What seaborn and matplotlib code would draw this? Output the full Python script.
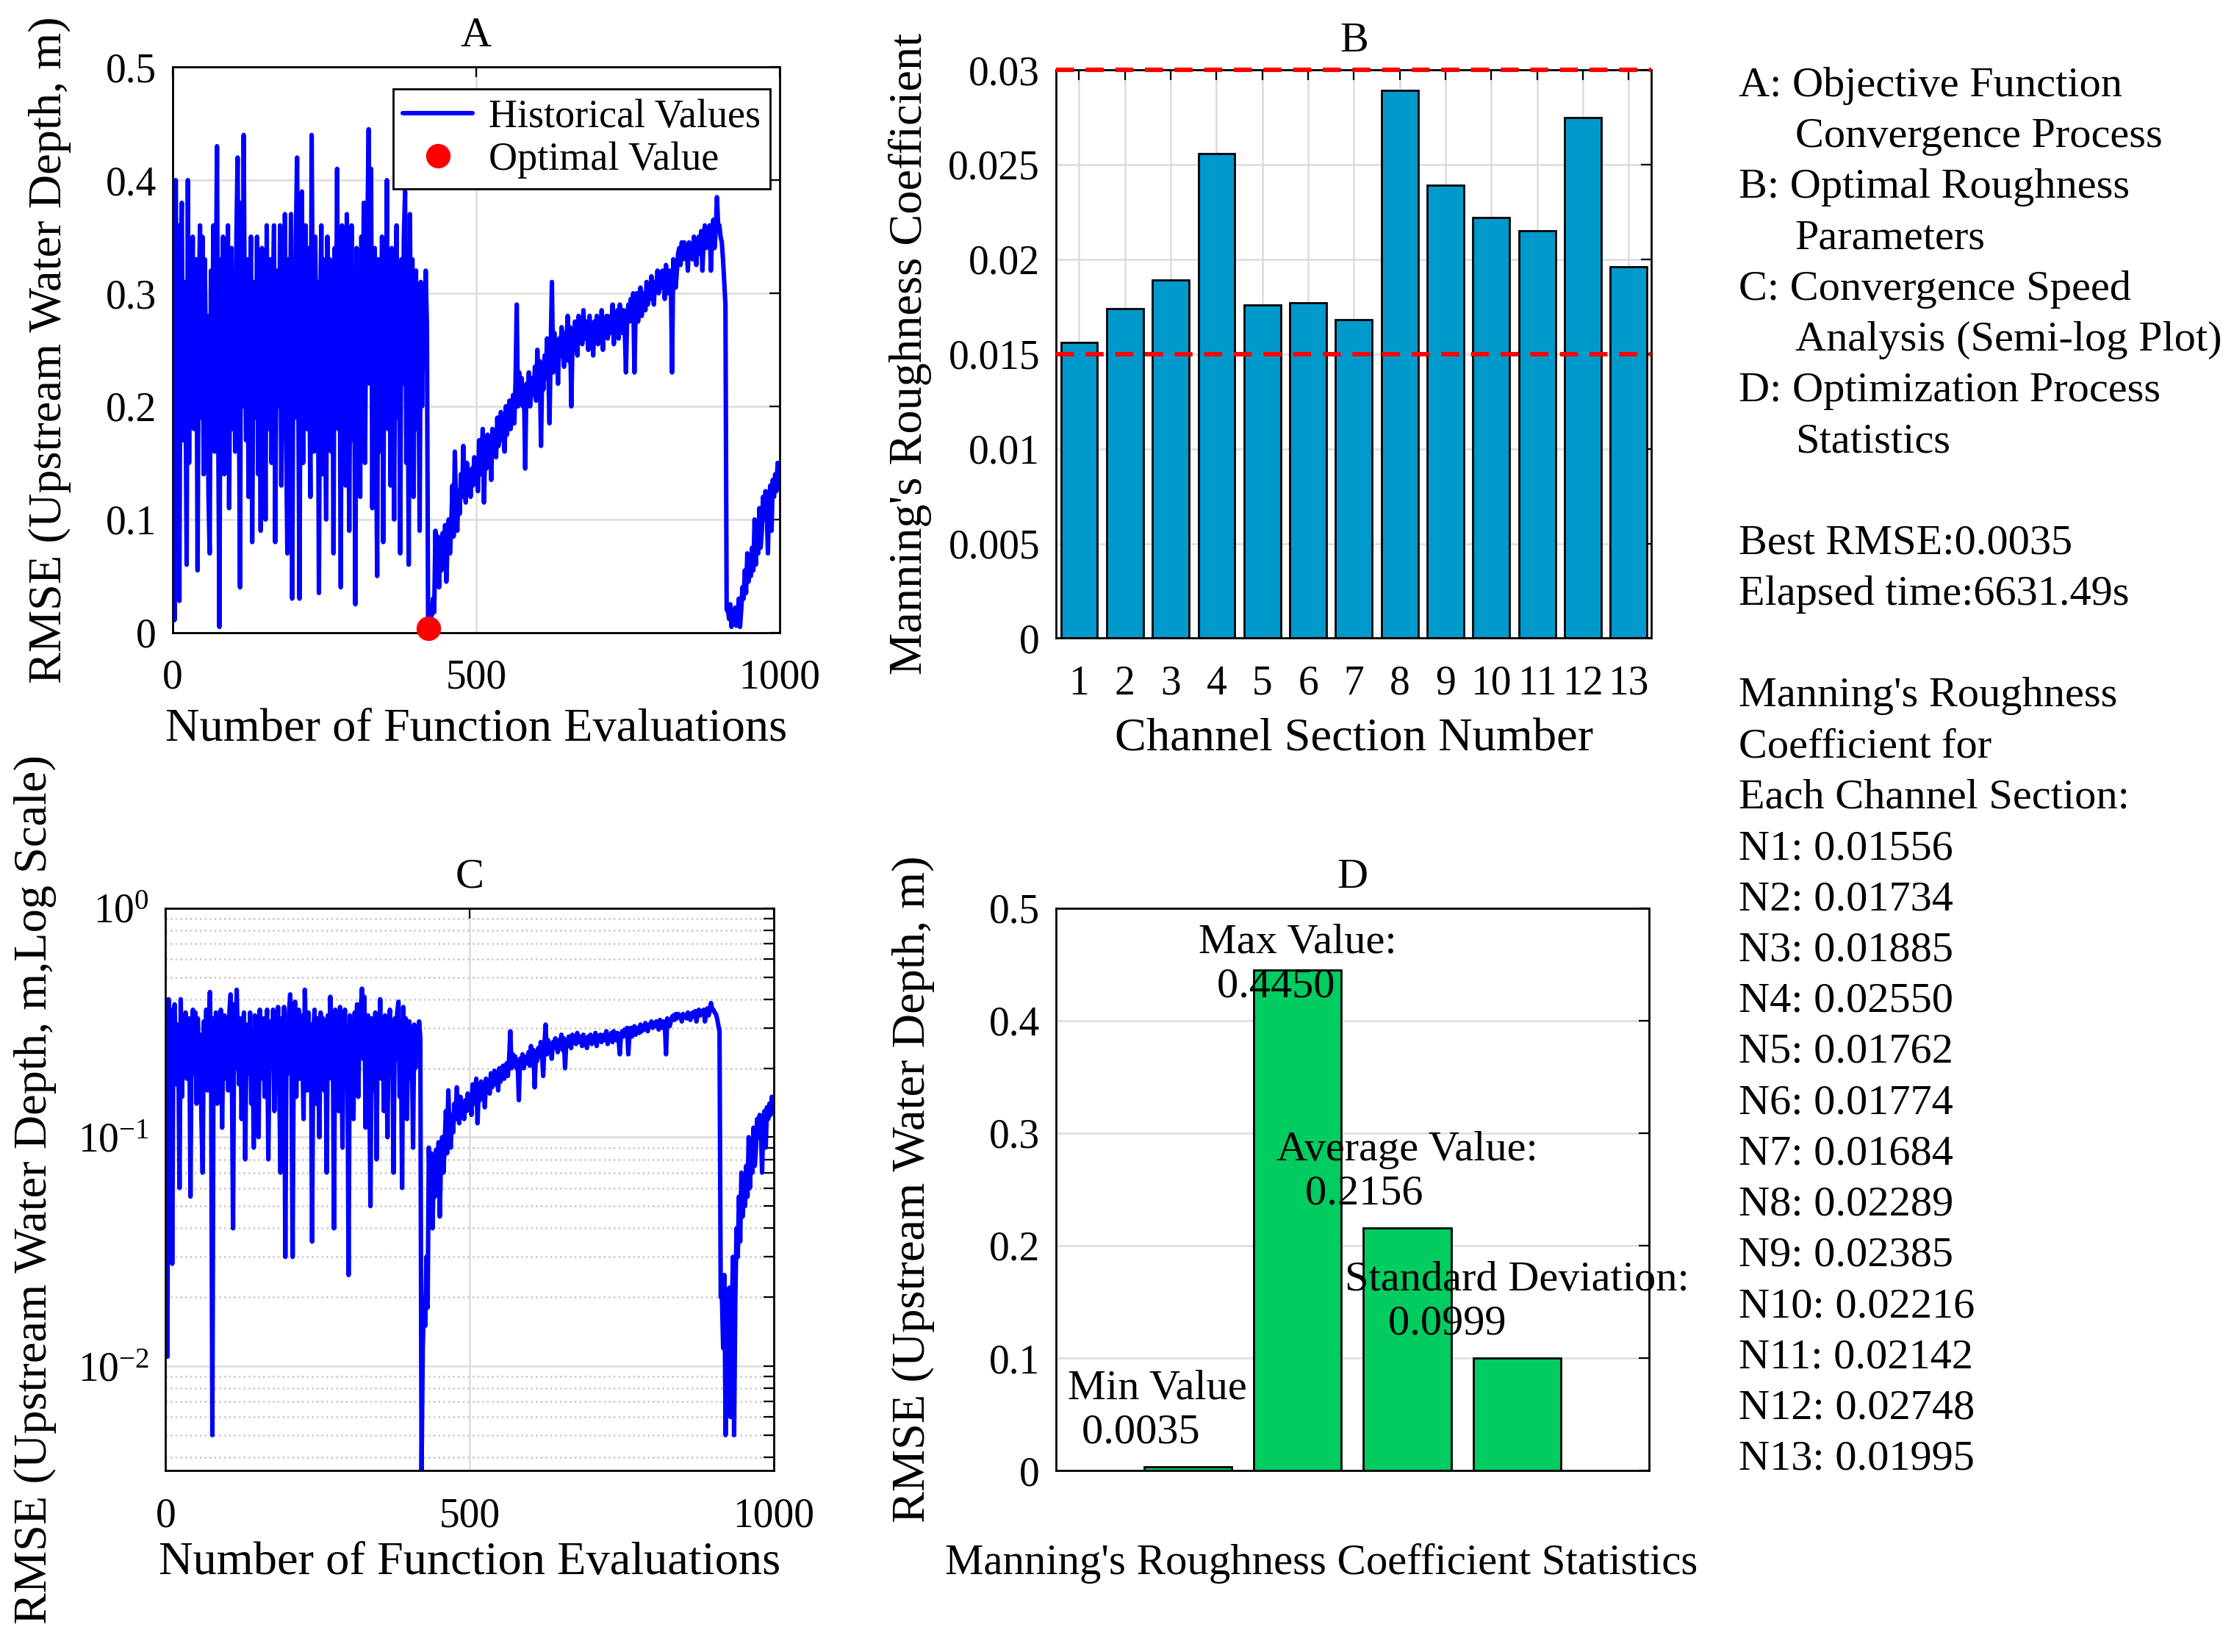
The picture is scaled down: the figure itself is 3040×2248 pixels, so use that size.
import numpy as np
import matplotlib
matplotlib.use("Agg")
import matplotlib.pyplot as plt
from matplotlib.ticker import FuncFormatter, LogLocator, NullFormatter
import seaborn as sns

# RMSE history (one value every 2 evaluations)
# evaluations 1-419: random search phase
rmse_search = [
    0.19, 0.011, 0.40, 0.22, 0.36, 0.028, 0.33, 0.38, 0.17, 0.31,
    0.24, 0.06, 0.40, 0.15, 0.30, 0.21, 0.35, 0.18, 0.27, 0.33,
    0.055, 0.29, 0.36, 0.19, 0.35, 0.14, 0.33, 0.22, 0.28, 0.12,
    0.07, 0.32, 0.21, 0.36, 0.16, 0.29, 0.43, 0.19, 0.005, 0.33,
    0.25, 0.35, 0.14, 0.30, 0.20, 0.36, 0.11, 0.27, 0.34, 0.18,
    0.31, 0.16, 0.35, 0.42, 0.22, 0.04, 0.38, 0.20, 0.44, 0.26,
    0.17, 0.33, 0.12, 0.29, 0.35, 0.08, 0.24, 0.31, 0.19, 0.35,
    0.14, 0.28, 0.09, 0.34, 0.22, 0.30, 0.10, 0.36, 0.18, 0.26,
    0.33, 0.15, 0.29, 0.36, 0.08, 0.25, 0.32, 0.20, 0.36, 0.13,
    0.30, 0.22, 0.37, 0.17, 0.07, 0.33, 0.25, 0.37, 0.03, 0.28,
    0.19, 0.35, 0.42, 0.21, 0.03, 0.32, 0.39, 0.15, 0.29, 0.36,
    0.18, 0.34, 0.24, 0.12, 0.44, 0.27, 0.16, 0.35, 0.22, 0.31,
    0.035, 0.28, 0.36, 0.14, 0.33, 0.19, 0.10, 0.35, 0.26, 0.33,
    0.16, 0.31, 0.07, 0.34, 0.23, 0.41, 0.18, 0.29, 0.04, 0.36,
    0.21, 0.33, 0.13, 0.37, 0.26, 0.09, 0.30, 0.36, 0.17, 0.28,
    0.025, 0.34, 0.20, 0.32, 0.12, 0.35, 0.24, 0.38, 0.15, 0.30,
    0.36, 0.445, 0.22, 0.41, 0.11, 0.30, 0.34, 0.19, 0.05, 0.33,
    0.26, 0.16, 0.35, 0.08, 0.29, 0.21, 0.40, 0.18, 0.32, 0.13,
    0.34, 0.24, 0.10, 0.31, 0.36, 0.19, 0.27, 0.07, 0.33, 0.22,
    0.35, 0.39, 0.15, 0.29, 0.06, 0.37, 0.21, 0.33, 0.12, 0.28,
    0.32, 0.18, 0.26, 0.09, 0.31, 0.20, 0.29, 0.25, 0.32, 0.27,
]
# evaluations 421-913: slow climb after the optimum
rmse_climb = [
    0.0035, 0.012, 0.02, 0.015, 0.03, 0.018, 0.09, 0.05, 0.085, 0.04,
    0.07, 0.055, 0.088, 0.06, 0.095, 0.045, 0.08, 0.1, 0.07, 0.092,
    0.13, 0.085, 0.16, 0.11, 0.09, 0.125, 0.105, 0.14, 0.12, 0.165,
    0.13, 0.115, 0.15, 0.125, 0.14, 0.12, 0.145, 0.13, 0.155, 0.135,
    0.15, 0.125, 0.17, 0.14, 0.155, 0.18, 0.115, 0.16, 0.145, 0.175,
    0.15, 0.17, 0.135, 0.18, 0.16, 0.175, 0.155, 0.19, 0.165, 0.18,
    0.195, 0.17, 0.185, 0.16, 0.2, 0.175, 0.19, 0.205, 0.18, 0.195,
    0.21, 0.185, 0.22, 0.29, 0.2, 0.23, 0.21, 0.225, 0.2, 0.215,
    0.145, 0.22, 0.205, 0.23, 0.2, 0.215, 0.225, 0.21, 0.235, 0.205,
    0.25, 0.22, 0.24, 0.165, 0.23, 0.215, 0.245, 0.225, 0.26, 0.235,
    0.185, 0.25, 0.31, 0.23, 0.265, 0.24, 0.255, 0.22, 0.26, 0.245,
    0.27, 0.25, 0.235, 0.265, 0.255, 0.28, 0.24, 0.27, 0.2, 0.26,
    0.25, 0.275, 0.26, 0.245, 0.28, 0.265, 0.27, 0.255, 0.285, 0.26,
    0.275, 0.265, 0.25, 0.28, 0.26, 0.27, 0.245, 0.275, 0.265, 0.28,
    0.255, 0.27, 0.26, 0.285, 0.25, 0.275, 0.265, 0.28, 0.26, 0.27,
    0.28, 0.265, 0.29, 0.255, 0.275, 0.27, 0.285, 0.26, 0.29, 0.275,
    0.265, 0.285, 0.27, 0.23, 0.28, 0.29, 0.275, 0.295, 0.28, 0.3,
    0.23, 0.285, 0.3, 0.275, 0.29, 0.305, 0.28, 0.295, 0.3, 0.285,
    0.31, 0.29, 0.305, 0.295, 0.315, 0.3, 0.29, 0.31, 0.305, 0.32,
    0.3, 0.315, 0.305, 0.32, 0.31, 0.295, 0.325, 0.31, 0.3, 0.32,
    0.315, 0.23, 0.33, 0.315, 0.305, 0.32, 0.335, 0.34, 0.325, 0.345,
    0.33, 0.345, 0.335, 0.34, 0.32, 0.345, 0.335, 0.34, 0.33, 0.35,
    0.34, 0.325, 0.345, 0.35, 0.335, 0.355, 0.32, 0.345, 0.36, 0.34,
    0.355, 0.345, 0.36, 0.32, 0.35, 0.365, 0.34, 0.355, 0.385, 0.36,
    0.36, 0.35, 0.345, 0.33, 0.31, 0.29, 0.02,
]
# evaluations 915-999: restart near zero
rmse_restart = [
    0.02, 0.012, 0.025, 0.005, 0.018, 0.01, 0.022, 0.006, 0.015, 0.03,
    0.005, 0.02, 0.04, 0.03, 0.055, 0.035, 0.07, 0.045, 0.06, 0.05,
    0.075, 0.055, 0.1, 0.06, 0.085, 0.07, 0.11, 0.075, 0.09, 0.12,
    0.1, 0.125, 0.11, 0.07, 0.12, 0.13, 0.09, 0.135, 0.12, 0.14,
    0.125, 0.15, 0.13,
]

# Optimal roughness per channel section (bar heights as drawn, text as printed)
section_labels = [str(i) for i in range(1, 14)]
section_bars = [0.0156, 0.0174, 0.0189, 0.0256, 0.0176, 0.0177, 0.0168,
                0.0289, 0.0239, 0.0222, 0.0215, 0.0275, 0.0196]
section_text = [0.01556, 0.01734, 0.01885, 0.02550, 0.01762, 0.01774, 0.01684,
                0.02289, 0.02385, 0.02216, 0.02142, 0.02748, 0.01995]
n_lower, n_upper = 0.015, 0.03

# Statistics of the run
stat_names = ["Min Value", "Max Value:", "Average Value:", "Standard Deviation:"]
stat_values = [0.0035, 0.4450, 0.2156, 0.0999]
elapsed_time = 6631.49

rmse = np.array(rmse_search + rmse_climb + rmse_restart)
evals = np.arange(1, 2 * len(rmse), 2)
best_idx = int(np.argmin(rmse))
best_rmse = rmse[best_idx]

# Style
sns.set_theme(style="white", rc={
    "axes.edgecolor": "black",
    "axes.linewidth": 1.0,
    "xtick.color": "black",
    "ytick.color": "black",
    "text.color": "black",
    "axes.labelcolor": "black",
})
plt.rcParams["font.family"] = ["Liberation Serif", "DejaVu Serif"]
plt.rcParams["mathtext.fontset"] = "stix"

TICK = 20
LABEL = 23.2
TITLE = 21
NOTE = 21
GRID = "#dcdcdc"
LW = 2.2
fmt_g = FuncFormatter(lambda v, p: f"{v:g}")

fig = plt.figure(figsize=(15.2, 11.24), dpi=200)
ax_a = fig.add_axes([0.0773, 0.6171, 0.2716, 0.3423])
ax_b = fig.add_axes([0.4728, 0.6137, 0.2665, 0.3440])
ax_c = fig.add_axes([0.0741, 0.1098, 0.2722, 0.3405])
ax_d = fig.add_axes([0.4728, 0.1098, 0.2652, 0.3405])


def style_axes(ax):
    ax.tick_params(which="both", direction="in", top=True, right=True,
                   labelsize=TICK, length=5, width=0.8, pad=8)
    ax.tick_params(axis="x", pad=13)
    for s in ax.spines.values():
        s.set_linewidth(1.0)
        s.set_color("black")


# A: convergence process
sns.lineplot(x=evals, y=rmse, color="blue", linewidth=LW, ax=ax_a,
             label="Historical Values")
ax_a.plot(evals[best_idx], best_rmse, "o", color="red", markersize=11,
          clip_on=False, zorder=5, label="Optimal Value")
ax_a.set_xlim(0, 1000)
ax_a.set_ylim(0, 0.5)
ax_a.set_xticks([0, 500, 1000])
ax_a.set_yticks(np.arange(0, 0.51, 0.1))
ax_a.yaxis.set_major_formatter(fmt_g)
ax_a.grid(True, color=GRID, lw=0.9)
ax_a.set_title("A", fontsize=TITLE, pad=10)
ax_a.set_xlabel("Number of Function Evaluations", fontsize=LABEL, va="center")
ax_a.set_ylabel("RMSE (Upstream Water Depth, m)", fontsize=LABEL, va="center")
ax_a.xaxis.set_label_coords(0.5, -0.172)
ax_a.yaxis.set_label_coords(-0.202, 0.5)
leg = ax_a.legend(loc="upper right", bbox_to_anchor=(0.985, 0.962), fontsize=19.5,
                  frameon=True, fancybox=False, framealpha=1, borderpad=0.25,
                  handlelength=1.75, handletextpad=0.4, labelspacing=0.15,
                  borderaxespad=0)
leg.get_frame().set_edgecolor("black")
leg.get_frame().set_linewidth(1.0)
for h in leg.get_lines():
    h.set_linewidth(LW)
style_axes(ax_a)

# B: optimal roughness parameters
sns.barplot(x=section_labels, y=section_bars, color="#0099CC", saturation=1,
            edgecolor="black", linewidth=1.0, width=0.8, ax=ax_b, zorder=2)
ax_b.axhline(n_lower, color="red", ls="--", lw=2.2, dashes=(4, 2.6), zorder=3)
ax_b.axhline(n_upper, color="red", ls="--", lw=2.2, dashes=(4, 2.6), zorder=3,
             clip_on=False)
ax_b.set_xlim(-0.5, len(section_labels) - 0.5)
ax_b.set_ylim(0, 0.03)
ax_b.set_yticks(np.arange(0, 0.0301, 0.005))
ax_b.yaxis.set_major_formatter(fmt_g)
ax_b.grid(True, color=GRID, lw=0.9, zorder=0)
ax_b.set_axisbelow(True)
ax_b.set_title("B", fontsize=TITLE, pad=9)
ax_b.set_xlabel("Channel Section Number", fontsize=LABEL, va="center")
ax_b.set_ylabel("Manning's Roughness Coefficient", fontsize=LABEL, va="center")
ax_b.xaxis.set_label_coords(0.5, -0.178)
ax_b.yaxis.set_label_coords(-0.245, 0.5)
style_axes(ax_b)

# C: semi-log convergence speed
sns.lineplot(x=evals, y=rmse, color="blue", linewidth=LW, ax=ax_c)
ax_c.set_yscale("log")
ax_c.set_xlim(0, 1000)
ax_c.set_ylim(best_rmse, 1)
ax_c.set_xticks([0, 500, 1000])
ax_c.yaxis.set_major_locator(LogLocator(base=10))
ax_c.yaxis.set_minor_locator(LogLocator(base=10, subs=np.arange(2, 10)))
ax_c.yaxis.set_minor_formatter(NullFormatter())
ax_c.grid(True, which="major", color=GRID, lw=0.9)
ax_c.grid(True, which="minor", axis="y", color="#c8c8c8", lw=0.9, ls=":")
ax_c.set_title("C", fontsize=TITLE, pad=10)
ax_c.set_xlabel("Number of Function Evaluations", fontsize=LABEL, va="center")
ax_c.set_ylabel("RMSE (Upstream Water Depth, m,Log Scale)", fontsize=LABEL, va="center")
ax_c.xaxis.set_label_coords(0.5, -0.165)
ax_c.yaxis.set_label_coords(-0.214, 0.5)
style_axes(ax_c)

# D: optimization statistics
sns.barplot(x=stat_names, y=stat_values, color="#00CC60", saturation=1,
            edgecolor="black", linewidth=1.0, width=0.8, ax=ax_d, zorder=2)
ax_d.set_xlim(-1.2, 4.2)
ax_d.set_ylim(0, 0.5)
ax_d.set_yticks(np.arange(0, 0.51, 0.1))
ax_d.yaxis.set_major_formatter(fmt_g)
ax_d.set_xticks([])
ax_d.grid(True, axis="y", color=GRID, lw=0.9, zorder=0)
ax_d.set_axisbelow(True)
label_shift = [-0.28, 0, 0, 0]
for i, (name, val) in enumerate(zip(stat_names, stat_values)):
    # second row padded to the first row's length, as a char matrix would be
    txt = name + "\n" + f"{val:.4f}".ljust(len(name))
    ax_d.text(i + label_shift[i], min(val + 0.05, 0.45), txt, ha="center",
              va="center", multialignment="center", fontsize=NOTE, zorder=4)
ax_d.set_title("D", fontsize=TITLE, pad=10)
ax_d.set_xlabel("Manning's Roughness Coefficient Statistics", fontsize=21.2, va="center")
ax_d.set_ylabel("RMSE (Upstream Water Depth, m)", fontsize=LABEL, va="center")
ax_d.xaxis.set_label_coords(0.448, -0.165)
ax_d.yaxis.set_label_coords(-0.241, 0.5)
style_axes(ax_d)

# Notes column on the right
notes = [
    ("A: Objective Function", False),
    ("Convergence Process", True),
    ("B: Optimal Roughness", False),
    ("Parameters", True),
    ("C: Convergence Speed", False),
    ("Analysis (Semi-log Plot)", True),
    ("D: Optimization Process", False),
    ("Statistics", True),
    ("", False),
    (f"Best RMSE:{best_rmse:.4f}", False),
    (f"Elapsed time:{elapsed_time:.2f}s", False),
    ("", False),
    ("Manning's Roughness", False),
    ("Coefficient for", False),
    ("Each Channel Section:", False),
]
notes += [(f"N{i + 1}: {v:.5f}", False) for i, v in enumerate(section_text)]

y_top, step = 0.948, 0.03079
for k, (line, indent) in enumerate(notes):
    x = 0.8035 if indent else 0.7782
    fig.text(x, y_top - k * step, line, fontsize=NOTE, ha="left", va="center")

fig.savefig("out.png", dpi=200)
